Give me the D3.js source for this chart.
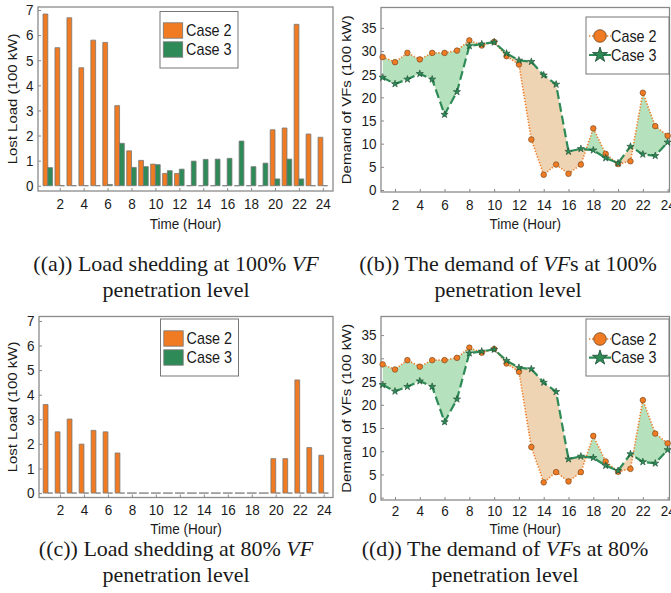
<!DOCTYPE html>
<html><head><meta charset="utf-8">
<script src="https://cdn.jsdelivr.net/npm/d3@7"></script>
<style>
body{margin:0;background:#fff;}
svg{display:block;}
</style></head><body>
<svg id="chart" width="671" height="593"></svg>
<script>
// ---------------- data ----------------
const hours = [1,2,3,4,5,6,7,8,9,10,11,12,13,14,15,16,17,18,19,20,21,22,23,24];
const xTickValues = [2,4,6,8,10,12,14,16,18,20,22,24];
const lostTickValues = [0,1,2,3,4,5,6,7];
const demandTickValues = [0,5,10,15,20,25,30,35];
const seriesNames = ["Case 2","Case 3"];

// Lost load (100 kW) at 100% VF penetration
const lost100Case2 = [6.84,5.50,6.69,4.70,5.80,5.71,3.19,1.39,1.01,0.86,0.49,0.49,0,0,0,0,0,0,0,2.23,2.30,6.43,2.06,1.93];
const lost100Case3 = [0.72,0,0,0,0,0.05,1.69,0.73,0.76,0.84,0.60,0.66,0.98,1.05,1.06,1.09,1.78,0.76,0.90,0.27,1.06,0.27,0,0];
// Lost load (100 kW) at 80% VF penetration
const lost80Case2 = [3.60,2.49,3.01,1.99,2.55,2.49,1.63,0,0,0,0,0,0,0,0,0,0,0,0,1.40,1.40,4.60,1.85,1.54];
const lost80Case3 = [0,0,0,0,0,0,0,0,0,0,0,0,0,0,0,0,0,0,0,0,0,0,0,0];
// Demand of VFs (100 kW) at 100% penetration
const demand100Case2 = [28.7,27.6,29.6,28.2,29.6,29.6,30.1,32.3,31.2,32.0,28.9,27.1,10.9,3.3,5.5,3.5,5.5,13.3,7.8,5.6,6.2,21.0,13.8,11.7];
const demand100Case3 = [24.3,22.9,23.9,25.1,23.9,16.3,21.2,31.1,31.5,31.9,29.5,28.0,27.7,24.8,22.8,8.3,8.9,8.6,6.9,5.8,9.4,7.7,7.4,10.3];
// Demand of VFs (100 kW) at 80% penetration
const demand80Case2 = [28.7,27.6,29.6,28.2,29.6,29.6,30.1,32.3,31.2,32.0,28.9,27.1,10.9,3.3,5.5,3.5,5.5,13.3,7.8,5.6,6.2,21.0,13.8,11.7];
const demand80Case3 = [24.3,22.9,23.9,25.1,23.9,16.3,21.2,31.1,31.5,31.9,29.5,28.0,27.7,24.8,22.8,8.3,8.9,8.6,6.9,5.8,9.4,7.7,7.4,10.3];

// ---------------- style ----------------
const ORANGE = "#f07b22", GREEN = "#2e8b57";
const FILL_GREEN = "#b6e1bd", FILL_TAN = "#eed4b3";
const AXIS = "#8a8a8a", TXT = "#1a1a1a";
const SANS = "'Liberation Sans', Arial, sans-serif";
const SERIF = "'Liberation Serif', 'Times New Roman', serif";
const SX = 0.9;

const svg = d3.select("#chart");

function styleAxis(g, isBottom, labelY){
  g.select(".domain").remove();
  g.selectAll(".tick line").attr("stroke", AXIS).attr("stroke-width", 1);
  const t = g.selectAll(".tick text").attr("font-family", SANS).attr("font-size", 15)
    .attr("fill", TXT).attr("transform", `scale(${SX},1)`);
  if(isBottom){ t.attr("dy", null).attr("y", labelY); }
}

function frame(cfg){
  svg.append("rect").attr("x", cfg.left).attr("y", cfg.top)
    .attr("width", cfg.right - cfg.left).attr("height", cfg.bottom - cfg.top)
    .attr("fill", "none").attr("stroke", AXIS).attr("stroke-width", 1.3);
}

function axesAndLabels(cfg, x, y, yTicks, yLabel){
  const gx = svg.append("g").attr("transform", `translate(0,${cfg.bottom})`)
    .call(d3.axisBottom(x).tickValues(xTickValues).tickSizeInner(-3).tickSizeOuter(0));
  styleAxis(gx, true, cfg.tickY);
  const gy = svg.append("g").attr("transform", `translate(${cfg.left},0)`)
    .call(d3.axisLeft(y).tickValues(yTicks).tickSizeInner(-3).tickSizeOuter(0).tickPadding(5));
  styleAxis(gy, false);
  svg.append("text").attr("transform", `translate(${(cfg.left+cfg.right)/2},${cfg.titleY}) scale(${SX},1)`)
    .attr("text-anchor", "middle").attr("font-family", SANS).attr("font-size", 15).attr("fill", TXT)
    .text("Time (Hour)");
  svg.append("text").attr("transform", `translate(${cfg.ylabX},${(cfg.top+cfg.bottom)/2}) scale(${SX},1) rotate(-90)`)
    .attr("text-anchor", "middle").attr("dominant-baseline", "central")
    .attr("font-family", SANS).attr("font-size", 15).attr("fill", TXT).text(yLabel);
}

function caption(cx, y1, parts1, y2){
  const t = svg.append("text").attr("x", cx).attr("y", y1).attr("text-anchor", "middle")
    .attr("font-family", SERIF).attr("font-size", 22).attr("fill", TXT);
  parts1.forEach(p => t.append("tspan").attr("font-style", p.i ? "italic" : "normal").text(p.t));
  svg.append("text").attr("x", cx).attr("y", y2).attr("text-anchor", "middle")
    .attr("font-family", SERIF).attr("font-size", 22).attr("fill", TXT).text("penetration level");
}

function barPanel(cfg){
  const x = d3.scaleLinear().domain(cfg.xDom).range([cfg.left, cfg.right]);
  const y = d3.scaleLinear().domain(cfg.yDom).range([cfg.bottom, cfg.top]);
  const bw = 0.4 * (x(1) - x(0));
  frame(cfg);
  [cfg.s2, cfg.s3].forEach((vals, si) => {
    svg.append("g").selectAll("path").data(vals).join("path")
      .attr("d", (v, i) => {
        const x0 = x(hours[i]) + (si === 0 ? -bw : 0), x1 = x0 + bw;
        return `M${x0},${y(0)}H${x1}V${y(v)}H${x0}Z`;
      })
      .attr("fill", si === 0 ? ORANGE : GREEN)
      .attr("stroke", "#777").attr("stroke-width", 0.8);
  });
  axesAndLabels(cfg, x, y, lostTickValues, "Lost Load (100 kW)");
  // legend
  const L = cfg.legend;
  svg.append("rect").attr("x", L.x).attr("y", L.y).attr("width", L.w).attr("height", L.h)
    .attr("fill", "#fff").attr("stroke", "#777").attr("stroke-width", 1);
  seriesNames.forEach((name, i) => {
    const cy = L.y + L.row0 + i * L.dy;
    svg.append("rect").attr("x", L.x + 3.3).attr("y", cy - 7.7).attr("width", 19.4).attr("height", 15.4)
      .attr("fill", i === 0 ? ORANGE : GREEN).attr("stroke", "#777").attr("stroke-width", 0.8);
    svg.append("text").attr("transform", `translate(${L.x + 26},${cy}) scale(${SX},1)`)
      .attr("dominant-baseline", "central").attr("font-family", SANS).attr("font-size", 16)
      .attr("fill", TXT).text(name);
  });
}

const starSym = s => d3.symbol().type(d3.symbolStar).size(s)();
const circSym = s => d3.symbol().type(d3.symbolCircle).size(s)();

function linePanel(cfg){
  const x = d3.scaleLinear().domain(cfg.xDom).range([cfg.left, cfg.right]);
  const y = d3.scaleLinear().domain(cfg.yDom).range([cfg.bottom, cfg.top]);
  const data = hours.map((h, i) => ({h, c2: cfg.s2[i], c3: cfg.s3[i]}));
  const defs = svg.append("defs");
  const above = d3.area().x(d => x(d.h)).y0(cfg.top - 50).y1(d => y(d.c3));
  const below = d3.area().x(d => x(d.h)).y0(cfg.bottom + 50).y1(d => y(d.c3));
  defs.append("clipPath").attr("id", cfg.id + "-above").append("path").attr("d", above(data));
  defs.append("clipPath").attr("id", cfg.id + "-below").append("path").attr("d", below(data));
  const between = d3.area().x(d => x(d.h)).y0(d => y(d.c3)).y1(d => y(d.c2));
  svg.append("path").attr("d", between(data)).attr("fill", FILL_GREEN)
    .attr("clip-path", `url(#${cfg.id}-above)`);
  svg.append("path").attr("d", between(data)).attr("fill", FILL_TAN)
    .attr("clip-path", `url(#${cfg.id}-below)`);
  frame(cfg);
  const line2 = d3.line().x(d => x(d.h)).y(d => y(d.c2));
  const line3 = d3.line().x(d => x(d.h)).y(d => y(d.c3));
  svg.append("path").attr("d", line2(data)).attr("fill", "none").attr("stroke", ORANGE)
    .attr("stroke-width", 1.6).attr("stroke-dasharray", "1.3,1.7");
  svg.append("g").selectAll("path").data(data).join("path")
    .attr("transform", d => `translate(${x(d.h)},${y(d.c2)})`).attr("d", circSym(Math.PI * 2.8 * 2.8))
    .attr("fill", ORANGE).attr("stroke", "#6b4320").attr("stroke-width", 0.6);
  svg.append("path").attr("d", line3(data)).attr("fill", "none").attr("stroke", GREEN)
    .attr("stroke-width", 2.2).attr("stroke-dasharray", "9,4");
  svg.append("g").selectAll("path").data(data).join("path")
    .attr("transform", d => `translate(${x(d.h)},${y(d.c3)})`).attr("d", starSym(16))
    .attr("fill", GREEN).attr("stroke", "#1d4a30").attr("stroke-width", 0.6);
  axesAndLabels(cfg, x, y, demandTickValues, "Demand of VFs (100 kW)");
  // legend
  const L = cfg.legend;
  svg.append("rect").attr("x", L.x).attr("y", L.y).attr("width", L.w).attr("height", L.h)
    .attr("fill", "#fff").attr("stroke", "#777").attr("stroke-width", 1);
  seriesNames.forEach((name, i) => {
    const cy = L.y + L.row0 + i * L.dy;
    svg.append("line").attr("x1", L.x + 3).attr("x2", L.x + 25).attr("y1", cy).attr("y2", cy)
      .attr("stroke", i === 0 ? ORANGE : GREEN).attr("stroke-width", i === 0 ? 1.6 : 2.2)
      .attr("stroke-dasharray", i === 0 ? "1.3,1.7" : "9,4");
    svg.append("path").attr("transform", `translate(${L.x + 14},${cy})`)
      .attr("d", i === 0 ? circSym(Math.PI * 6.3 * 6.3) : starSym(70))
      .attr("fill", i === 0 ? ORANGE : GREEN).attr("stroke", i === 0 ? "#6b4320" : "#1d4a30").attr("stroke-width", 0.8);
    svg.append("text").attr("transform", `translate(${L.x + 25},${cy}) scale(${SX},1)`)
      .attr("dominant-baseline", "central").attr("font-family", SANS).attr("font-size", 16)
      .attr("fill", TXT).text(name);
  });
}

barPanel({left: 38, right: 333, top: 7, bottom: 191, xDom: [0.18, 24.85], yDom: [-0.21, 7.12],
  tickY: 18.5, titleY: 229, ylabX: 12, s2: lost100Case2, s3: lost100Case3,
  legend: {x: 160, y: 11.5, w: 78, h: 56.5, row0: 19, dy: 19}});
barPanel({left: 39, right: 333, top: 316.5, bottom: 497.5, xDom: [0.25, 24.78], yDom: [-0.18, 7.18],
  tickY: 17.5, titleY: 534, ylabX: 12, s2: lost80Case2, s3: lost80Case3,
  legend: {x: 160.5, y: 319, w: 78, h: 57, row0: 19.5, dy: 19}});
linePanel({id: "pb", left: 381, right: 669.5, top: 7.5, bottom: 192, xDom: [0.87, 24.15], yDom: [-0.43, 39.4],
  tickY: 18, titleY: 229, ylabX: 346.5, s2: demand100Case2, s3: demand100Case3,
  legend: {x: 586, y: 17, w: 83, h: 57, row0: 19, dy: 19}});
linePanel({id: "pd", left: 381, right: 669.5, top: 316.5, bottom: 500, xDom: [0.87, 24.15], yDom: [-0.5, 39],
  tickY: 16, titleY: 534, ylabX: 346.5, s2: demand80Case2, s3: demand80Case3,
  legend: {x: 586, y: 319, w: 83, h: 57, row0: 20, dy: 18.7}});

caption(176, 271, [{t: "((a)) Load shedding at 100% "}, {t: "VF", i: true}], 297);
caption(508, 271, [{t: "((b)) The demand of "}, {t: "VF", i: true}, {t: "s at 100%"}], 297);
caption(176, 556, [{t: "((c)) Load shedding at 80% "}, {t: "VF", i: true}], 582);
caption(505, 556, [{t: "((d)) The demand of "}, {t: "VF", i: true}, {t: "s at 80%"}], 582);
</script>
</body></html>
